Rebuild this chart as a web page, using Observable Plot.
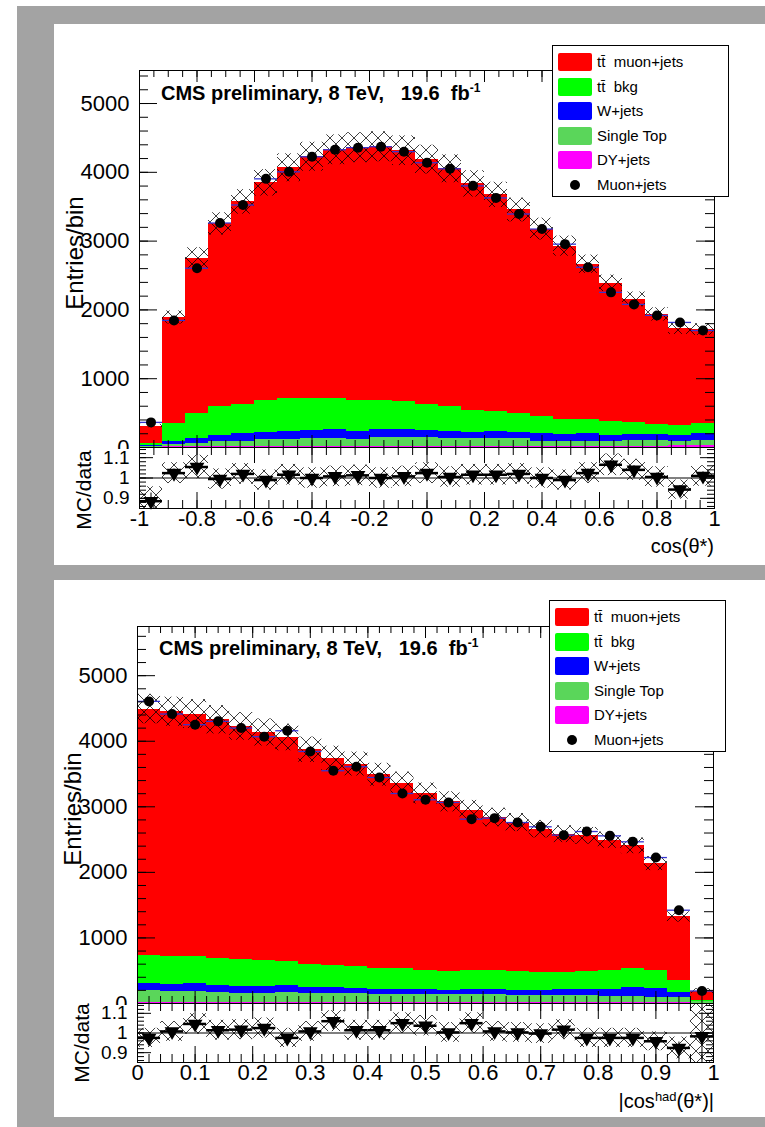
<!DOCTYPE html>
<html><head><meta charset="utf-8">
<script src="https://cdn.jsdelivr.net/npm/d3@7"></script>
<script src="https://cdn.jsdelivr.net/npm/@observablehq/plot@0.6"></script>
<style>
body{margin:0;background:#fff;font-family:"Liberation Sans",Arial,Helvetica,sans-serif;}
#page{position:relative;width:765px;height:1127px;overflow:hidden;background:#fff;}
.gray{position:absolute;left:17px;top:6px;width:748px;height:1121px;background:#a3a3a3;}
.panel{position:absolute;left:54px;width:711px;background:#fff;}
.cover{position:absolute;left:54px;width:100px;background:#fff;}
.svgbox{position:absolute;left:0;}
.svgbox svg{overflow:visible;display:block;}
.legend{position:absolute;border:1px solid #000;background:#fff;font-size:15px;box-sizing:border-box;}
.legrow{position:absolute;left:0;height:20px;width:100%;}
.sw{position:absolute;left:5px;width:34px;height:18px;top:1px;border-radius:2px;}
.dotsw{position:absolute;left:17px;top:5px;width:10px;height:10px;border-radius:50%;background:#000;}
.legtxt{position:absolute;left:44px;top:1px;line-height:18px;white-space:pre;}
.cms{position:absolute;font-weight:bold;font-size:20px;line-height:20px;white-space:pre;}
.cms sup{font-size:12px;vertical-align:8px;line-height:0;}
.xtitle{position:absolute;font-size:20px;line-height:22px;text-align:right;width:200px;white-space:pre;}
.xtitle sup{font-size:13px;vertical-align:7px;line-height:0;}
</style>
</head><body>
<div id="page">
  <div class="gray"></div>
  <div class="panel" style="top:24px;height:541px;"></div>
  <div class="panel" style="top:580px;height:537px;"></div>
</div>
<script>
// ---------- data ----------
const seriesNames = ["tt\u0304  muon+jets", "tt\u0304  bkg", "W+jets", "Single Top", "DY+jets"];
const seriesColors = ["#ff0000", "#00ff00", "#0000ff", "#5ad65a", "#ff00ff"];
const dataName = "Muon+jets";

// top panel: cos(theta*)
const topEdges = [-1,-0.92,-0.84,-0.76,-0.68,-0.6,-0.52,-0.44,-0.36,-0.28,-0.2,-0.12,-0.04,0.04,0.12,0.2,0.28,0.36,0.44,0.52,0.6,0.68,0.76,0.84,0.92,1];
const topSignal = [254,1540,2265,2656,2942,3161,3356,3516,3618,3672,3691,3647,3562,3457,3297,3151,2966,2718,2518,2255,2012,1793,1593,1404,1365];
const topTtBkg  = [35,267,356,424,424,462,472,462,447,448,418,404,375,365,321,292,273,257,219,209,195,170,151,156,146];
const topWjets  = [10,39,73,87,112,112,116,117,132,116,122,122,107,98,83,98,83,108,98,108,97,93,93,78,97];
const topSingleTop = [8,24,38,63,72,92,102,111,111,102,121,121,121,111,111,111,111,72,72,72,63,77,77,62,77];
const topDY     = [5,20,20,20,20,20,20,20,20,20,20,20,20,20,20,20,20,20,20,20,20,20,20,30,30];
const topData   = [365,1847,2606,3263,3525,3905,4007,4226,4328,4358,4372,4300,4139,4051,3803,3628,3394,3175,2956,2620,2255,2080,1920,1818,1700];
const topMcErr  = [0.08,0.05,0.055,0.05,0.05,0.05,0.05,0.05,0.05,0.05,0.05,0.05,0.05,0.05,0.05,0.05,0.05,0.05,0.05,0.05,0.05,0.05,0.05,0.05,0.05];
const topRatio  = [0.886,1.024,1.054,0.995,1.02,0.99,1.016,1.0,1.008,1.013,1.0,1.008,1.024,1.005,1.016,1.016,1.02,1.0,0.99,1.024,1.065,1.04,1.005,0.943,1.01];
const topRatioErr = [0.04,0.02,0.02,0.015,0.015,0.015,0.015,0.015,0.015,0.015,0.015,0.015,0.015,0.015,0.015,0.015,0.015,0.015,0.015,0.02,0.02,0.02,0.02,0.02,0.02];
const topXTicks = [-1,-0.8,-0.6,-0.4,-0.2,0,0.2,0.4,0.6,0.8,1];
const topYTicks = [0,1000,2000,3000,4000,5000];

// bottom panel: |cos^had(theta*)|
const botEdges = [0,0.04,0.08,0.12,0.16,0.2,0.24,0.28,0.32,0.36,0.4,0.44,0.48,0.52,0.56,0.6,0.64,0.68,0.72,0.76,0.8,0.84,0.88,0.92,0.96,1];
const botSignal = [3766,3735,3700,3644,3562,3485,3424,3282,3165,3090,2957,2830,2705,2595,2454,2341,2279,2188,2112,2071,1985,1873,1628,966,135];
const botTtBkg  = [422,422,412,417,407,392,367,346,331,330,316,316,288,280,290,290,290,270,265,280,290,290,280,189,15];
const botWjets  = [112,112,122,102,102,102,102,92,92,82,76,76,70,71,76,76,76,86,91,91,112,138,137,76,15];
const botSingleTop = [173,163,163,147,137,137,147,132,132,132,122,122,122,112,112,112,97,97,97,97,86,86,71,71,18];
const botDY     = [18,18,18,18,18,18,18,18,18,18,18,18,18,18,18,18,18,18,18,18,18,18,18,18,5];
const botData   = [4608,4415,4252,4303,4201,4069,4160,3844,3550,3611,3447,3203,3107,3066,2812,2827,2760,2695,2568,2623,2557,2466,2226,1423,191];
const botMcErr  = [0.05,0.05,0.05,0.05,0.05,0.05,0.05,0.05,0.05,0.05,0.05,0.05,0.05,0.05,0.05,0.05,0.05,0.05,0.05,0.05,0.05,0.05,0.05,0.06,0.2];
const botRatio  = [0.975,1.008,1.046,1.014,1.017,1.025,0.975,1.008,1.06,1.014,1.014,1.05,1.037,1.003,1.05,1.008,1.003,0.997,1.017,0.975,0.975,0.975,0.958,0.924,0.983];
const botRatioErr = [0.015,0.015,0.015,0.015,0.015,0.015,0.015,0.015,0.015,0.015,0.015,0.015,0.015,0.015,0.015,0.015,0.015,0.015,0.015,0.015,0.015,0.015,0.02,0.03,0.12];
const botXTicks = [0,0.1,0.2,0.3,0.4,0.5,0.6,0.7,0.8,0.9,1];
const botYTicks = [0,1000,2000,3000,4000,5000];
const ratioYTicks = [0.9,1,1.1];

// ---------- helpers ----------
const FONT = "Liberation Sans, Arial, Helvetica, sans-serif";
const PAGE_W = 765;

function hatchDefs(id) {
  return () => {
    const defs = d3.create("svg:defs");
    const p = defs.append("pattern").attr("id", id).attr("patternUnits", "userSpaceOnUse")
      .attr("width", 12).attr("height", 12);
    p.append("path").attr("d", "M0,0L12,12M12,0L0,12")
      .attr("stroke", "#000").attr("stroke-width", 0.75).attr("fill", "none");
    return defs.node();
  };
}

function frameTicks(o) {
  const W = o.W, H = o.H, m = [];
  if (o.yMinor) {
    m.push(Plot.tickY(o.yMinor, {y: d => d, insetRight: W - o.yMinLen}));
    m.push(Plot.tickY(o.yMinor, {y: d => d, insetLeft: W - o.yMinLen}));
  }
  if (o.yMajor) {
    m.push(Plot.tickY(o.yMajor, {y: d => d, insetRight: W - o.yMajLen}));
    m.push(Plot.tickY(o.yMajor, {y: d => d, insetLeft: W - o.yMajLen}));
  }
  if (o.xMinor) {
    m.push(Plot.tickX(o.xMinor, {x: d => d, insetBottom: H - o.xMinLen}));
    m.push(Plot.tickX(o.xMinor, {x: d => d, insetTop: H - o.xMinLen}));
  }
  if (o.xMajor) {
    m.push(Plot.tickX(o.xMajor, {x: d => d, insetBottom: H - o.xMajLen}));
    m.push(Plot.tickX(o.xMajor, {x: d => d, insetTop: H - o.xMajLen}));
  }
  return m;
}

function mainPlot(o) {
  const comps = [o.signal, o.ttbkg, o.wjets, o.st, o.dy]; // same order as seriesNames
  const stackOrder = [4, 3, 2, 1, 0]; // bottom -> top
  const rows = [];
  for (const k of stackOrder) {
    comps[k].forEach((v, i) => rows.push({lo: o.edges[i], hi: o.edges[i + 1], v, comp: seriesNames[k]}));
  }
  const bins = o.data.map((v, i) => ({
    lo: o.edges[i], hi: o.edges[i + 1], c: (o.edges[i] + o.edges[i + 1]) / 2, v,
    mc: comps.reduce((s, a) => s + a[i], 0), e: o.err[i]
  }));
  const W = PAGE_W - o.ml - o.mr, H = o.height - o.mt - o.mb;
  return Plot.plot({
    width: PAGE_W, height: o.height,
    marginLeft: o.ml, marginRight: o.mr, marginTop: o.mt, marginBottom: o.mb,
    x: {domain: o.xDomain, axis: null, label: null},
    y: {domain: o.yDomain, label: null},
    color: {domain: seriesNames, range: seriesColors},
    style: {fontFamily: FONT, fontSize: "22px", background: "transparent", overflow: "visible"},
    marks: [
      hatchDefs(o.id),
      Plot.rectY(rows, {x1: "lo", x2: "hi", y: "v", fill: "comp", shapeRendering: "crispEdges"}),
      Plot.rect(bins, {x1: "lo", x2: "hi", y1: d => d.mc * (1 - d.e), y2: d => d.mc * (1 + d.e), fill: `url(#${o.id})`}),
      Plot.ruleY(bins, {y: "v", x1: "lo", x2: "hi", stroke: "#3535d0", strokeWidth: 1.3}),
      Plot.dot(bins, {x: "c", y: "v", r: 5, fill: "#000"}),
      ...frameTicks({W, H, yMinor: o.yMinor, yMajor: o.yTicks, yMinLen: 9, yMajLen: 18,
                     xMinor: o.xMinor, xMajor: o.xMajor, xMinLen: 7, xMajLen: 12}),
      Plot.frame({stroke: "#000"}),
      Plot.axisY(o.yTicks, {tickSize: 0, tickPadding: 10, tickFormat: d => String(d), fontSize: 22, label: null}),
      Plot.text(["Entries/bin"], {frameAnchor: "left", textAnchor: "middle", dx: o.ytitleDx, dy: o.ytitleDy, rotate: -90, fontSize: 24})
    ]
  });
}

function ratioPlot(o) {
  const bins = o.ratio.map((r, i) => ({
    lo: o.edges[i], hi: o.edges[i + 1], c: (o.edges[i] + o.edges[i + 1]) / 2, r, e: o.err[i], s: o.rErr[i]
  }));
  const W = PAGE_W - o.ml - o.mr, H = o.height - o.mb;
  return Plot.plot({
    width: PAGE_W, height: o.height,
    marginLeft: o.ml, marginRight: o.mr, marginTop: 0, marginBottom: o.mb,
    x: {domain: o.xDomain, label: null},
    y: {domain: [0.85, 1.15], label: null},
    style: {fontFamily: FONT, fontSize: "22px", background: "transparent", overflow: "visible"},
    marks: [
      hatchDefs(o.id),
      Plot.rect(bins, {x1: "lo", x2: "hi", y1: d => d.r * (1 - d.e), y2: d => d.r * (1 + d.e), fill: `url(#${o.id})`, clip: true}),
      Plot.ruleY([1], {stroke: "#000", strokeWidth: 1}),
      Plot.ruleX(bins, {x: "c", y1: d => d.r - d.s, y2: d => d.r + d.s, stroke: "#000", clip: true}),
      Plot.ruleY(bins, {y: "r", x1: "lo", x2: "hi", stroke: "#000", strokeWidth: 2.5}),
      Plot.dot(bins, {x: "c", y: "r", symbol: "triangle", rotate: 180, r: 5.5, fill: "#000"}),
      ...frameTicks({W, H, yMinor: o.yMinor, yMajor: ratioYTicks, yMinLen: 7, yMajLen: 14,
                     xMinor: o.xMinor, xMajor: o.xMajor, xMinLen: 8, xMajLen: 16}),
      Plot.frame({stroke: "#000"}),
      Plot.axisY(ratioYTicks, {tickSize: 0, tickPadding: 10, tickFormat: d => String(d), fontSize: 19, label: null}),
      Plot.axisX(o.xTicks, {tickSize: 0, tickPadding: 2, tickFormat: d => String(d), fontSize: 22, label: null}),
      Plot.text(["MC/data"], {frameAnchor: "left", textAnchor: "middle", dx: o.ytitleDx, dy: o.ytitleDy, rotate: -90, fontSize: 21})
    ]
  });
}

function place(node, top) {
  const box = document.createElement("div");
  box.className = "svgbox";
  box.style.top = top + "px";
  box.appendChild(node);
  document.getElementById("page").appendChild(box);
}
function cover(top, height) {
  const el = document.createElement("div");
  el.className = "cover";
  el.style.top = top + "px"; el.style.height = height + "px";
  document.getElementById("page").appendChild(el);
}

function legend(left, top) {
  const el = document.createElement("div");
  el.className = "legend";
  Object.assign(el.style, {left: left + "px", top: top + "px", width: "177px", height: "152px"});
  const rowsY = [6, 30.5, 55, 79.5, 104, 128.5];
  seriesNames.forEach((n, i) => {
    const r = document.createElement("div");
    r.className = "legrow"; r.style.top = rowsY[i] + "px";
    r.innerHTML = `<div class="sw" style="background:${seriesColors[i]}"></div><div class="legtxt"></div>`;
    r.querySelector(".legtxt").textContent = n;
    el.appendChild(r);
  });
  const r = document.createElement("div");
  r.className = "legrow"; r.style.top = rowsY[5] + "px";
  r.innerHTML = `<div class="dotsw"></div><div class="legtxt"></div>`;
  r.querySelector(".legtxt").textContent = dataName;
  el.appendChild(r);
  document.getElementById("page").appendChild(el);
}

function html(cls, left, top, inner) {
  const el = document.createElement("div");
  el.className = cls;
  el.style.left = left + "px"; el.style.top = top + "px";
  el.innerHTML = inner;
  document.getElementById("page").appendChild(el);
}

// ---------- top panel ----------
const topXMinor = d3.range(-1, 1.0001, 0.05).map(v => +v.toFixed(2));
place(mainPlot({
  id: "hatchTopMain", edges: topEdges, signal: topSignal, ttbkg: topTtBkg, wjets: topWjets, st: topSingleTop, dy: topDY,
  data: topData, err: topMcErr, xDomain: [-1, 1], yDomain: [0, 5480], yTicks: topYTicks,
  yMinor: d3.range(0, 5401, 200), xMinor: topXMinor, xMajor: topXTicks,
  height: 447, mt: 70, mb: 0, ml: 139, mr: 51, ytitleDx: -64, ytitleDy: -6
}), 0);
cover(449, 60);
place(ratioPlot({
  id: "hatchTopRatio", edges: topEdges, ratio: topRatio, err: topMcErr, rErr: topRatioErr, xDomain: [-1, 1],
  xTicks: topXTicks, xMinor: topXMinor, xMajor: topXTicks, yMinor: d3.range(0.86, 1.15, 0.02),
  height: 121, mb: 60, ml: 139, mr: 51, ytitleDx: -55, ytitleDy: 12
}), 447);

// ---------- bottom panel ----------
const botXMinor = d3.range(0, 1.0001, 0.02).map(v => +v.toFixed(2));
place(mainPlot({
  id: "hatchBotMain", edges: botEdges, signal: botSignal, ttbkg: botTtBkg, wjets: botWjets, st: botSingleTop, dy: botDY,
  data: botData, err: botMcErr, xDomain: [0, 1], yDomain: [0, 5750], yTicks: botYTicks,
  yMinor: d3.range(0, 5701, 200), xMinor: botXMinor, xMajor: botXTicks,
  height: 423, mt: 46, mb: 0, ml: 137, mr: 52, ytitleDx: -64, ytitleDy: -6
}), 580);
cover(1005, 58);
place(ratioPlot({
  id: "hatchBotRatio", edges: botEdges, ratio: botRatio, err: botMcErr, rErr: botRatioErr, xDomain: [0, 1],
  xTicks: botXTicks, xMinor: botXMinor, xMajor: botXTicks, yMinor: d3.range(0.86, 1.15, 0.02),
  height: 119, mb: 60, ml: 137, mr: 52, ytitleDx: -55, ytitleDy: 10
}), 1003);

// ---------- texts & legends ----------
html("cms", 161, 83, "CMS preliminary, 8 TeV,&nbsp;&nbsp; 19.6 &nbsp;fb<sup>-1</sup>");
html("cms", 159, 638, "CMS preliminary, 8 TeV,&nbsp;&nbsp; 19.6 &nbsp;fb<sup>-1</sup>");
legend(552, 45);
legend(549, 600);
html("xtitle", 514, 535, "cos(θ*)");
html("xtitle", 514, 1090, "|cos<sup>had</sup>(θ*)|");
</script>
</body></html>
